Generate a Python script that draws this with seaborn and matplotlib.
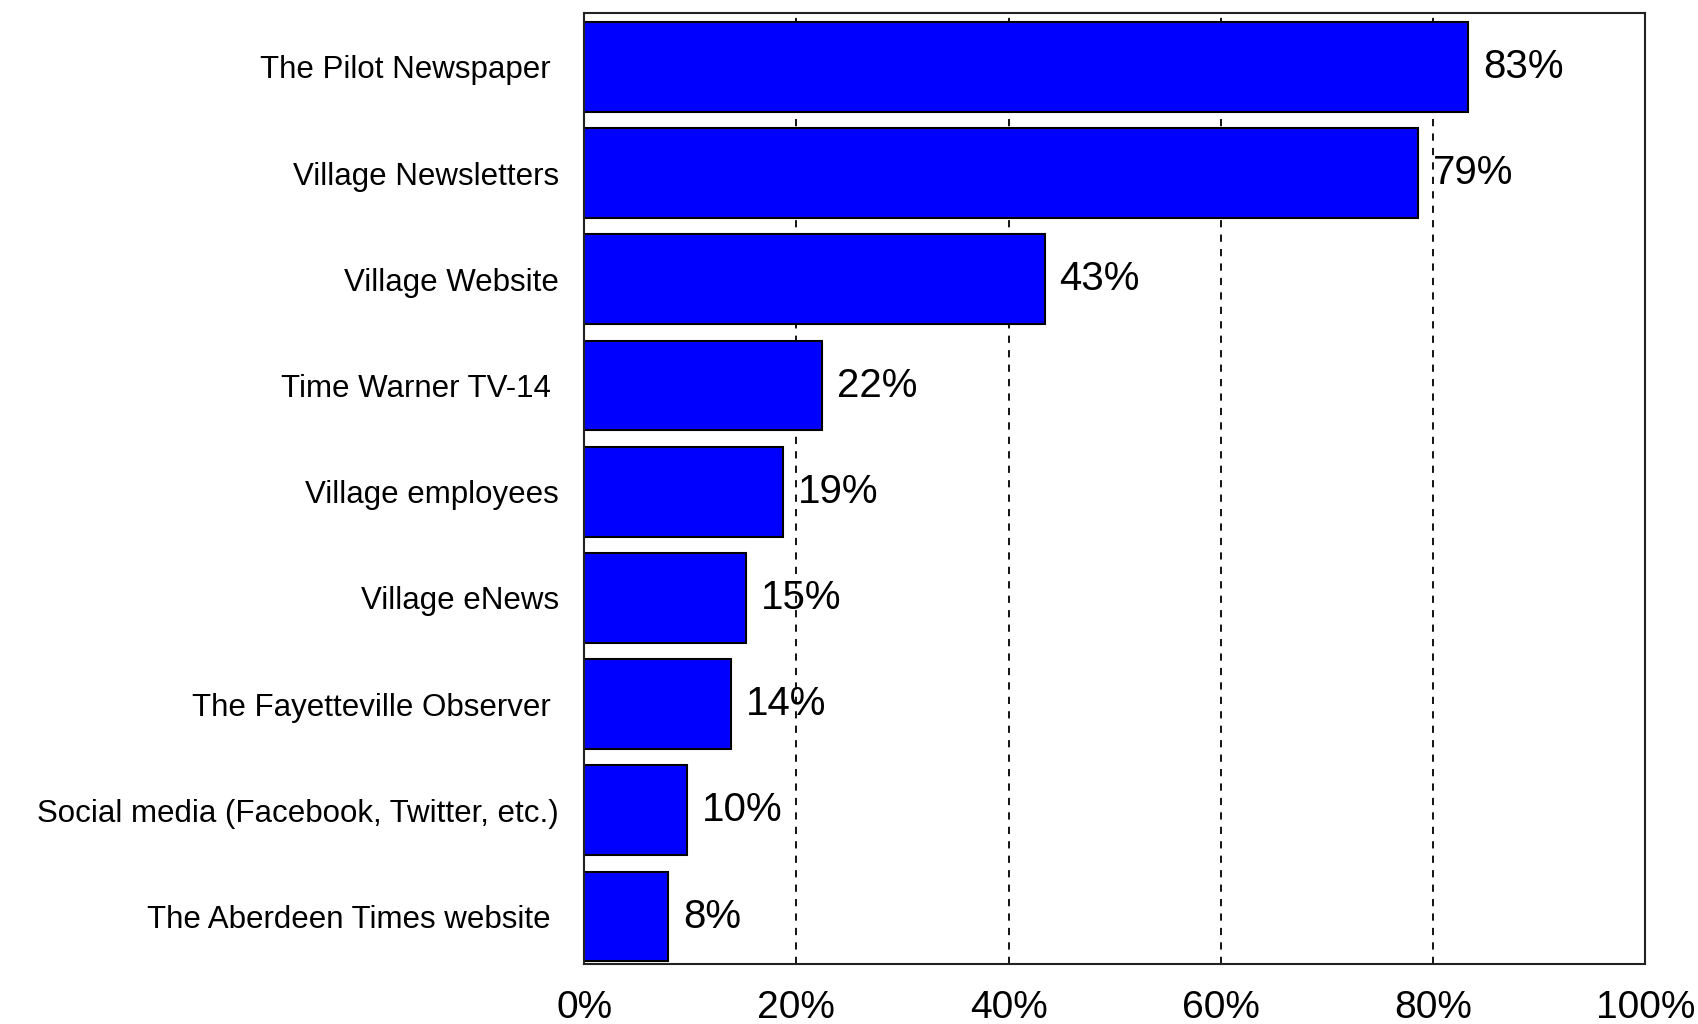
import pandas as pd
import numpy as np
import matplotlib
matplotlib.use("Agg")
import matplotlib.pyplot as plt
import seaborn as sns
from matplotlib.ticker import PercentFormatter

# --- DATA ---
sources = ['The Pilot Newspaper ', 'Village Newsletters', 'Village Website',
           'Time Warner TV-14 ', 'Village employees', 'Village eNews',
           'The Fayetteville Observer ', 'Social media (Facebook, Twitter, etc.)',
           'The Aberdeen Times website ']
pct = [83.3, 78.6, 43.4, 22.4, 18.7, 15.3, 13.8, 9.7, 7.9]
pct_labels = ['83%', '79%', '43%', '22%', '19%', '15%', '14%', '10%', '8%']
xticks = [0, 20, 40, 60, 80, 100]

df = pd.DataFrame({'source': sources, 'pct': pct})

sns.set_style('white')
plt.rcParams['font.family'] = ['Liberation Sans', 'DejaVu Sans']

fig = plt.figure(figsize=(16.98, 10.24), dpi=100)
ax = fig.add_axes([0.344, 0.059, 0.625, 0.928])

sns.barplot(data=df, x='pct', y='source', orient='h', color='#0000FF',
            saturation=1, edgecolor='black', linewidth=1.5, width=0.846, ax=ax)

# dashed grid behind bars
ax.set_axisbelow(True)
for v in xticks[1:-1]:
    ax.axvline(v, color='black', linestyle=(0, (4, 4)), linewidth=1.3, zorder=0)

# value labels
for i, (v, lab) in enumerate(zip(pct, pct_labels)):
    ax.text(v + 1.4, i, lab, va='center', ha='left', fontsize=29, color='black')

ax.set_xlim(0, 100)
ax.set_ylim(8.443, -0.505)
ax.set_xticks(xticks)
ax.xaxis.set_major_formatter(PercentFormatter(decimals=0))
ax.tick_params(axis='x', labelsize=28, pad=19, length=0, labelcolor='black')
ax.tick_params(axis='y', labelsize=22.5, pad=18, length=0, labelcolor='black')
ax.set_xlabel('')
ax.set_ylabel('')
for sp in ax.spines.values():
    sp.set_visible(True)
    sp.set_color('#222222')
    sp.set_linewidth(1.5)

plt.savefig('out.png', dpi=100)
